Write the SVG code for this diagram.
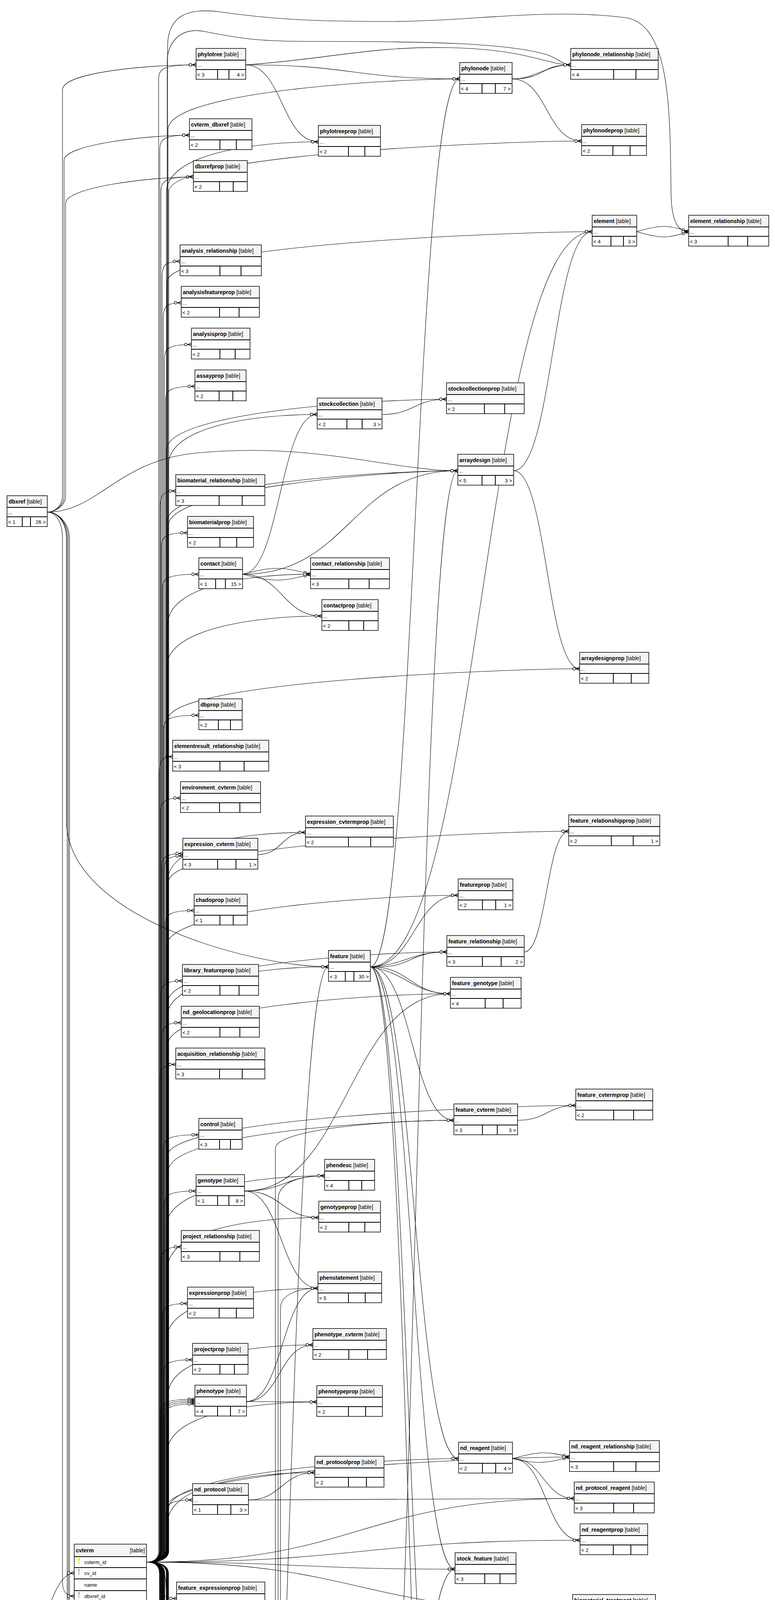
<svg xmlns="http://www.w3.org/2000/svg" width="1984" height="7963" viewBox="0 0 1984 7963">
<defs>
<marker id="m" viewBox="0 0 22 12" refX="22" refY="6" markerWidth="22" markerHeight="12" orient="auto" markerUnits="userSpaceOnUse"><path d="M12 6L22 1.5M12 6H22M12 6L22 10.5" fill="none" stroke="#000" stroke-width="1.2"/><circle cx="7.5" cy="6" r="3.3" fill="#fff" stroke="#000" stroke-width="1.2"/></marker>
</defs>
<style>
.c path{fill:none;stroke:#000;stroke-width:1.1;marker-end:url(#m)}
.b{fill:#fff;stroke:#000;stroke-width:1.5}
.h{fill:#f4f4f4}
.s{fill:none;stroke:#000;stroke-width:2}
.d{fill:none;stroke:#000;stroke-width:1}
text{font-family:"Liberation Sans",Arial,Helvetica,sans-serif;fill:#000}
.n{font-size:14px;font-weight:bold}
.n tspan{font-weight:normal}
.t{font-size:14px;text-anchor:end}
.r{font-size:13px}
.e{text-anchor:end}
.ky{fill:#e0e000}
.kg{fill:#aaa}
</style>
<rect width="1984" height="7963" fill="#fff"/>
<g id="connectors" class="c">
<path d="M629 166C903 166 903 202 1177 202"/>
<path d="M629 166C850 150 950 118 1150 122C1350 126 1400 166 1461 166"/>
<path d="M629 166C722 166 722 363 815 363"/>
<path d="M1311 202C1370 202 1400 166 1461 166"/>
<path d="M1311 202C1400 202 1380 166 1461 166"/>
<path d="M1311 202C1400 202 1400 361 1489 361"/>
<path d="M948 2475C1063 2475 1062 202 1177 202"/>
<path d="M121 1311C140 1311 160 1295 160 1270L160 230C160 185 380 166 502 166"/>
<path d="M121 1311C140 1311 164 1295 164 1270L164 410C164 370 380 346 485 346"/>
<path d="M121 1311C140 1311 168 1295 168 1270L168 520C168 480 380 453 495 453"/>
<path d="M121 1311C250 1311 300 1180 500 1160C800 1130 1000 1205 1172 1205"/>
<path d="M121 1311C150 1311 170 1340 170 1380L170 2100C170 2350 650 2475 841 2475"/>
<path d="M121 1311C150 1311 172 1340 172 1380L172 4900C172 5000 800 5064 1158 5064"/>
<path d="M121 1311C150 1311 175 1340 175 1380L175 4950C175 5030 600 5081 835 5081"/>
<path d="M121 1311C150 1311 178 1340 178 1380L178 5200C178 5300 600 5369 845 5369"/>
<path d="M121 1311C145 1311 160 1340 160 1380L160 4050C160 4075 170 4086 190 4086"/>
<path d="M108 7766C150 7766 230 7700 230 7500C230 6500 60 5500 60 4800C60 4300 120 4027 190 4027"/>
<path d="M108 7766L495 7766"/>
<path d="M108 7766C250 7766 330 7873 510 7873"/>
<path d="M1630 593C1690 575 1710 575 1763 593"/>
<path d="M1630 593C1690 611 1710 611 1763 593"/>
<path d="M1315 1205C1415 1205 1416 593 1516 593"/>
<path d="M948 2475C1232 2475 1232 593 1516 593"/>
<path d="M621 1470C700 1450 720 1450 795 1470"/>
<path d="M621 1470C700 1490 720 1490 795 1470"/>
<path d="M621 1470C722 1470 723 1577 824 1577"/>
<path d="M621 1470C716 1470 717 1061 812 1061"/>
<path d="M621 1470C896 1470 897 1205 1172 1205"/>
<path d="M978 1061C1060 1061 1061 1022 1143 1022"/>
<path d="M1315 1205C1400 1205 1400 1712 1484 1712"/>
<path d="M954 5081C1063 5081 1063 1205 1172 1205"/>
<path d="M954 5081C1066 5081 1067 4161 1179 4161"/>
<path d="M954 5081C1058 5081 1058 6710 1162 6710"/>
<path d="M660 2188C721 2188 721 2131 782 2131"/>
<path d="M948 2475C1060 2475 1061 2292 1173 2292"/>
<path d="M948 2475C1040 2470 1050 2437 1144 2437"/>
<path d="M948 2475C1060 2480 1040 2437 1144 2437"/>
<path d="M948 2475C1050 2475 1050 2544 1153 2544"/>
<path d="M948 2475C1040 2490 1060 2544 1153 2544"/>
<path d="M948 2475C1055 2475 1055 2868 1162 2868"/>
<path d="M948 2475C1061 2475 1061 3734 1174 3734"/>
<path d="M948 2475C1056 2475 1057 4017 1165 4017"/>
<path d="M948 2475C1048 2475 1048 4850 1148 4850"/>
<path d="M948 2475C1052 2475 1052 5642 1156 5642"/>
<path d="M1342 2437C1399 2437 1399 2128 1456 2128"/>
<path d="M1325 2868C1400 2868 1400 2830 1474 2830"/>
<path d="M628 5708C734 5708 735 2475 841 2475"/>
<path d="M628 5708C736 5708 737 5369 845 5369"/>
<path d="M628 5708C700 5708 715 5475 787 5475"/>
<path d="M628 5708C720 5700 700 5475 787 5475"/>
<path d="M628 5708C721 5708 722 5582 815 5582"/>
<path d="M628 5708C720 5708 719 5968 811 5968"/>
<path d="M628 5708C735 5708 736 6426 843 6426"/>
<path d="M628 5708C716 5708 717 6642 805 6642"/>
<path d="M626 3049C890 3049 890 2544 1153 2544"/>
<path d="M626 3049C728 3049 729 3010 831 3010"/>
<path d="M626 3049C721 3049 721 3117 816 3117"/>
<path d="M626 3049C720 3049 720 3298 814 3298"/>
<path d="M631 3588C716 3588 716 3443 801 3443"/>
<path d="M631 3588C721 3588 721 3589 811 3589"/>
<path d="M631 3588C722 3588 723 3298 814 3298"/>
<path d="M1312 3734C1380 3715 1400 3715 1458 3730"/>
<path d="M1312 3734C1380 3750 1400 3745 1458 3730"/>
<path d="M1312 3734C1391 3734 1391 3836 1470 3836"/>
<path d="M1312 3734C1398 3734 1398 3943 1485 3943"/>
<path d="M636 3840C721 3840 721 3770 806 3770"/>
<path d="M636 3840C1053 3840 1053 3836 1470 3836"/>
<path d="M1306 4161C1386 4161 1386 4124 1466 4124"/>
<path d="M647 4414C714 4414 714 4272 781 4272"/>
<path d="M647 4414C721 4414 722 4397 796 4397"/>
<path d="M647 4414C892 4414 892 4957 1137 4957"/>
<path d="M634 4808C721 4808 722 4789 809 4789"/>
<path d="M634 4808C892 4808 893 5170 1151 5170"/>
<path d="M1348 4957C1400 4957 1400 4826 1451 4826"/>
<path d="M960 5224C1054 5224 1054 4850 1148 4850"/>
<path d="M944 5369C1040 5360 1050 5391 1148 5391"/>
<path d="M944 5369C1050 5380 1040 5391 1148 5391"/>
<path d="M944 5369C1055 5369 1056 5498 1167 5498"/>
<path d="M944 5369C1061 5369 1061 5285 1178 5285"/>
<path d="M944 5369C1055 5369 1055 4017 1165 4017"/>
<path d="M944 5369C1048 5369 1047 5170 1151 5170"/>
<path d="M944 5369C1040 5369 1041 4957 1137 4957"/>
<path d="M1336 5391C1393 5391 1393 6622 1450 6622"/>
<path d="M1320 5498C1400 5498 1400 5533 1479 5533"/>
<path d="M979 5909C1041 5909 1041 5891 1103 5891"/>
<path d="M979 5909C1068 5909 1069 5064 1158 5064"/>
<path d="M979 5909C1067 5909 1068 5642 1156 5642"/>
<path d="M979 5909C1050 5909 1060 5749 1139 5749"/>
<path d="M979 5909C1065 5900 1050 5749 1139 5749"/>
<path d="M979 5909C1073 5909 1074 6090 1168 6090"/>
<path d="M979 5909C1063 5909 1064 6196 1148 6196"/>
<path d="M979 5909C1068 5909 1069 6303 1158 6303"/>
<path d="M979 5909C1067 5909 1068 6949 1156 6949"/>
<path d="M1383 5861C1428 5861 1429 6103 1474 6103"/>
<path d="M957 6174C1052 6174 1053 6196 1148 6196"/>
<path d="M946 6426C1060 6426 1060 6447 1174 6447"/>
<path d="M946 6426C1040 6426 1050 6554 1144 6554"/>
<path d="M946 6426C1050 6440 1040 6554 1144 6554"/>
<path d="M946 6426C1052 6426 1052 6303 1158 6303"/>
<path d="M946 6426C1054 6426 1055 6817 1163 6817"/>
<path d="M986 6642C1060 6642 1061 7105 1135 7105"/>
<path d="M1329 6949C1400 6949 1400 7213 1470 7213"/>
<path d="M607 6278C650 6278 705 6260 705 6200L705 2940C705 2890 1000 2868 1162 2868"/>
<path d="M607 6278C650 6278 712 6260 712 6200L712 3070C712 3030 760 3010 831 3010"/>
<path d="M607 6278C650 6278 718 6260 718 6200L718 3350C718 3315 760 3298 814 3298"/>
<path d="M607 6278C650 6278 724 6260 724 6200L724 5140C724 5100 770 5081 835 5081"/>
<path d="M607 6278C650 6278 730 6260 730 6200L730 5600C730 5530 1000 5498 1167 5498"/>
<path d="M607 6278C650 6278 735 6260 735 6200L735 5720C735 5670 1000 5642 1156 5642"/>
<path d="M607 6278C800 6278 900 6090 1168 6090"/>
<path d="M607 6278C850 6278 950 6196 1148 6196"/>
<path d="M607 6278C850 6278 950 6303 1158 6303"/>
<path d="M607 6278C750 6300 900 6380 1200 6375C1380 6370 1400 6132 1474 6132"/>
<path d="M607 6278C800 6278 1200 6622 1450 6622"/>
<path d="M607 6278C706 6278 706 6642 805 6642"/>
<path d="M607 6278C700 6278 712 6749 805 6749"/>
<path d="M607 6278C715 6290 700 6749 805 6749"/>
<path d="M607 6278C885 6278 885 6817 1163 6817"/>
<path d="M607 6278C681 6278 681 6855 755 6855"/>
<path d="M607 6278C880 6278 880 6949 1156 6949"/>
<path d="M607 6278C721 6278 721 6962 835 6962"/>
<path d="M375 3999Q406 3999 406 3970L406 206C406 178 412 166 502 166"/>
<path d="M375 3999Q409 3999 409 3970L409 386C409 358 415 346 485 346"/>
<path d="M375 3999Q412 3999 412 3970L412 493C412 465 418 453 495 453"/>
<path d="M375 3999Q415 3999 415 3970L415 709C415 681 421 669 461 669"/>
<path d="M375 3999Q418 3999 418 3970L418 815C418 787 424 775 464 775"/>
<path d="M375 3999Q421 3999 421 3970L421 922C421 894 427 882 490 882"/>
<path d="M375 3999Q424 3999 424 3970L424 1029C424 1001 430 989 499 989"/>
<path d="M375 3999Q410 3999 410 3970L410 1297C410 1269 416 1257 450 1257"/>
<path d="M375 3999Q413 3999 413 3970L413 1404C413 1376 419 1364 480 1364"/>
<path d="M375 3999Q416 3999 416 3970L416 1510C416 1482 422 1470 509 1470"/>
<path d="M375 3999Q419 3999 419 3970L419 1871C419 1843 425 1831 509 1831"/>
<path d="M375 3999Q408 3999 408 3970L408 1977C408 1949 414 1937 442 1937"/>
<path d="M375 3999Q411 3999 411 3970L411 2083C411 2055 417 2043 462 2043"/>
<path d="M375 3999Q414 3999 414 3970L414 2225C414 2197 420 2185 468 2185"/>
<path d="M375 3999Q420 3999 420 3970L420 2231C420 2203 426 2191 468 2191"/>
<path d="M375 3999Q423 3999 423 3970L423 2371C423 2343 429 2331 497 2331"/>
<path d="M375 3999Q412 3999 412 3970L412 2551C412 2523 418 2511 467 2511"/>
<path d="M375 3999Q415 3999 415 3970L415 2658C415 2630 421 2618 464 2618"/>
<path d="M375 3999Q409 3999 409 3970L409 2765C409 2737 415 2725 450 2725"/>
<path d="M375 3999Q418 3999 418 3970L418 2945C418 2917 424 2905 509 2905"/>
<path d="M375 3999Q421 3999 421 3970L421 3089C421 3061 427 3049 502 3049"/>
<path d="M375 3999Q413 3999 413 3970L413 3232C413 3204 419 3192 464 3192"/>
<path d="M375 3999Q416 3999 416 3970L416 3377C416 3349 422 3337 480 3337"/>
<path d="M375 3999Q419 3999 419 3970L419 3521C419 3493 425 3481 493 3481"/>
<path d="M375 3999Q410 3999 410 3970L410 3622C410 3594 416 3582 499 3582"/>
<path d="M375 3999Q414 3999 414 3970L414 3626C414 3598 420 3586 499 3586"/>
<path d="M375 3999Q418 3999 418 3970L418 3630C418 3602 424 3590 499 3590"/>
<path d="M375 3999Q422 3999 422 3970L422 3634C422 3606 428 3594 499 3594"/>
<path d="M375 3999Q425 3999 425 3970L425 3880C425 3852 431 3840 493 3840"/>
<path d="M375 3999Q430 3999 430 3970L430 332C430 232 1017 202 1177 202"/>
<path d="M375 3999Q428 3999 428 3970L428 160C428 110 460 70 520 80C600 95 640 106 800 106C1100 106 1300 110 1400 140C1430 150 1440 166 1461 166"/>
<path d="M375 3999Q426 3999 426 3970L426 493C426 393 655 363 815 363"/>
<path d="M375 3999Q432 3999 432 3970L432 491C432 391 1329 361 1489 361"/>
<path d="M375 3999Q427 3999 427 3970L427 723C427 623 1356 593 1516 593"/>
<path d="M375 3999Q429 3999 429 3970L429 120C429 40 480 20 560 30C700 50 800 55 1000 55C1200 55 1400 20 1600 45C1720 60 1715 300 1718 500C1720 575 1740 593 1763 593"/>
<path d="M375 3999Q431 3999 431 3970L431 1191C431 1091 652 1061 812 1061"/>
<path d="M375 3999Q426 3999 426 3970L426 1152C426 1052 983 1022 1143 1022"/>
<path d="M375 3999Q428 3999 428 3970L428 1335C428 1235 1012 1205 1172 1205"/>
<path d="M375 3999Q431 3999 431 3970L431 1345C431 1250 1000 1205 1172 1205"/>
<path d="M375 3999Q429 3999 429 3970L429 1600C429 1500 635 1470 795 1470"/>
<path d="M375 3999Q427 3999 427 3970L427 1707C427 1607 664 1577 824 1577"/>
<path d="M375 3999Q430 3999 430 3970L430 1842C430 1742 1324 1712 1484 1712"/>
<path d="M375 3999Q428 3999 428 3970L428 2261C428 2161 622 2131 782 2131"/>
<path d="M375 3999Q431 3999 431 3970L431 2258C431 2158 1296 2128 1456 2128"/>
<path d="M375 3999Q426 3999 426 3970L426 2422C426 2322 1013 2292 1173 2292"/>
<path d="M375 3999Q429 3999 429 3970L429 2567C429 2467 984 2437 1144 2437"/>
<path d="M375 3999Q427 3999 427 3970L427 2605C427 2505 681 2475 841 2475"/>
<path d="M375 3999Q430 3999 430 3970L430 2674C430 2574 993 2544 1153 2544"/>
<path d="M375 3999Q428 3999 428 3970L428 2960C428 2860 1314 2830 1474 2830"/>
<path d="M375 3999Q431 3999 431 3970L431 2998C431 2898 1002 2868 1162 2868"/>
<path d="M375 3999Q426 3999 426 3970L426 3140C426 3040 671 3010 831 3010"/>
<path d="M375 3999Q429 3999 429 3970L429 3247C429 3147 656 3117 816 3117"/>
<path d="M375 3999Q427 3999 427 3970L427 3428C427 3328 654 3298 814 3298"/>
<path d="M375 3999Q430 3999 430 3970L430 3573C430 3473 641 3443 801 3443"/>
<path d="M375 3999Q428 3999 428 3970L428 3719C428 3619 651 3589 811 3589"/>
<path d="M375 3999Q431 3999 431 3970L431 3864C431 3764 1014 3734 1174 3734"/>
<path d="M375 3999Q426 3999 426 3970L426 3860C426 3760 1298 3730 1458 3730"/>
<path d="M375 3999Q429 3999 429 3970L429 3900C429 3800 646 3770 806 3770"/>
<path d="M375 3999C922 3999 923 3836 1470 3836"/>
<path d="M375 3999C930 3999 930 3943 1485 3943"/>
<path d="M375 3999C770 3999 770 4017 1165 4017"/>
<path d="M375 3999C920 3999 920 4124 1466 4124"/>
<path d="M375 3999Q425 3999 425 4060C425 4140 500 4165 700 4165C900 4165 1050 4161 1179 4161"/>
<path d="M375 3999Q410 3999 410 4028L410 4052C410 4080 416 4092 452 4092"/>
<path d="M375 3999Q413 3999 413 4028L413 4267C413 4295 419 4307 440 4307"/>
<path d="M375 3999Q416 3999 416 4028L416 4374C416 4402 422 4414 482 4414"/>
<path d="M375 3999Q409 3999 409 4028L409 4476C409 4504 415 4516 464 4516"/>
<path d="M375 3999Q412 3999 412 4028L412 4481C412 4509 418 4521 464 4521"/>
<path d="M375 3999Q415 3999 415 4028L415 4486C415 4514 421 4526 464 4526"/>
<path d="M375 3999Q418 3999 418 4028L418 4588C418 4616 424 4628 469 4628"/>
<path d="M375 3999Q421 3999 421 4028L421 4768C421 4796 427 4808 495 4808"/>
<path d="M375 3999Q414 3999 414 4028L414 4909C414 4937 420 4949 493 4949"/>
<path d="M375 3999Q420 3999 420 4028L420 4915C420 4943 426 4955 493 4955"/>
<path d="M375 3999Q411 3999 411 4028L411 5055C411 5083 417 5095 476 5095"/>
<path d="M375 3999Q417 3999 417 4028L417 5200C417 5228 423 5240 472 5240"/>
<path d="M375 3999Q413 3999 413 4028L413 5340C413 5368 419 5380 478 5380"/>
<path d="M375 3999Q419 3999 419 4028L419 5346C419 5374 425 5386 478 5386"/>
<path d="M375 3999Q422 3999 422 4028L422 5668C422 5696 428 5708 502 5708"/>
<path d="M375 3999Q410 3999 410 4028L410 5774C410 5802 416 5814 481 5814"/>
<path d="M375 3999Q416 3999 416 4028L416 6238C416 6266 422 6278 520 6278"/>
<path d="M375 3999Q419 3999 419 4028L419 6385C419 6413 425 6425 476 6425"/>
<path d="M375 3999Q412 3999 412 4028L412 7226C412 7254 418 7266 493 7266"/>
<path d="M375 3999Q408 3999 408 4028L408 7333C408 7361 414 7373 452 7373"/>
<path d="M375 3999Q415 3999 415 4028L415 7513C415 7541 421 7553 480 7553"/>
<path d="M375 3999Q418 3999 418 4028L418 7619C418 7647 424 7659 478 7659"/>
<path d="M375 3999Q410 3999 410 4028L410 7720C410 7748 416 7760 495 7760"/>
<path d="M375 3999Q414 3999 414 4028L414 7726C414 7754 420 7766 495 7766"/>
<path d="M375 3999Q421 3999 421 4028L421 7732C421 7760 427 7772 495 7772"/>
<path d="M375 3999Q417 3999 417 4028L417 7833C417 7861 423 7873 510 7873"/>
<path d="M375 3999Q428 3999 428 4028L428 4142C428 4242 621 4272 781 4272"/>
<path d="M375 3999Q431 3999 431 4028L431 4267C431 4367 636 4397 796 4397"/>
<path d="M375 3999Q426 3999 426 4028L426 4659C426 4759 649 4789 809 4789"/>
<path d="M375 3999Q429 3999 429 4028L429 4696C429 4796 1291 4826 1451 4826"/>
<path d="M375 3999Q427 3999 427 4028L427 4720C427 4820 988 4850 1148 4850"/>
<path d="M375 3999Q430 3999 430 4028L430 4827C430 4927 977 4957 1137 4957"/>
<path d="M375 3999Q428 3999 428 4028L428 4951C428 5051 675 5081 835 5081"/>
<path d="M375 3999Q431 3999 431 4028L431 5040C431 5140 991 5170 1151 5170"/>
<path d="M375 3999Q426 3999 426 4028L426 5094C426 5194 669 5224 829 5224"/>
<path d="M375 3999Q429 3999 429 4028L429 5155C429 5255 1018 5285 1178 5285"/>
<path d="M375 3999Q427 3999 427 4028L427 5239C427 5339 685 5369 845 5369"/>
<path d="M375 3999Q430 3999 430 4028L430 5261C430 5361 988 5391 1148 5391"/>
<path d="M375 3999Q428 3999 428 4028L428 5345C428 5445 627 5475 787 5475"/>
<path d="M375 3999Q431 3999 431 4028L431 5368C431 5468 1007 5498 1167 5498"/>
<path d="M375 3999Q426 3999 426 4028L426 5403C426 5503 1319 5533 1479 5533"/>
<path d="M375 3999Q429 3999 429 4028L429 5452C429 5552 655 5582 815 5582"/>
<path d="M375 3999Q427 3999 427 4028L427 5619C427 5719 979 5749 1139 5749"/>
<path d="M375 3999Q430 3999 430 4028L430 5791C430 5891 943 5921 1103 5921"/>
<path d="M375 3999Q428 3999 428 4028L428 6044C428 6144 673 6174 833 6174"/>
<path d="M375 3999Q431 3999 431 4028L431 6296C431 6396 683 6426 843 6426"/>
<path d="M375 3999Q426 3999 426 4028L426 6317C426 6417 1014 6447 1174 6447"/>
<path d="M375 3999Q429 3999 429 4028L429 6424C429 6524 984 6554 1144 6554"/>
<path d="M375 3999Q427 3999 427 4028L427 6492C427 6592 1290 6622 1450 6622"/>
<path d="M375 3999Q430 3999 430 4028L430 6512C430 6612 645 6642 805 6642"/>
<path d="M375 3999Q428 3999 428 4028L428 6580C428 6680 1002 6710 1162 6710"/>
<path d="M375 3999Q431 3999 431 4028L431 6570C431 6690 990 6710 1162 6710"/>
<path d="M375 3999Q426 3999 426 4028L426 6619C426 6719 645 6749 805 6749"/>
<path d="M375 3999Q429 3999 429 4028L429 6687C429 6787 1003 6817 1163 6817"/>
<path d="M375 3999Q427 3999 427 4028L427 6725C427 6825 595 6855 755 6855"/>
<path d="M375 3999Q430 3999 430 4028L430 6819C430 6919 996 6949 1156 6949"/>
<path d="M375 3999Q428 3999 428 4028L428 6832C428 6932 675 6962 835 6962"/>
<path d="M375 3999Q431 3999 431 4028L431 6975C431 7075 975 7105 1135 7105"/>
<path d="M375 3999Q426 3999 426 4028L426 7083C426 7183 1310 7213 1470 7213"/>
</g>
<g id="phylotree" transform="translate(502 124)"><rect class="b" width="127" height="79"/><rect class="h" x="1" y="1" width="125" height="29"/><path class="s" d="M0 30H127M0 54H127M55 54V79M84 54V79"/><text class="n" x="4" y="20">phylotree <tspan>[table]</tspan></text><text class="r" x="3" y="47">...</text><text class="r" x="3" y="72">&lt; 3</text><text class="r e" x="123" y="72">4 &gt;</text></g>
<g id="phylonode" transform="translate(1177 160)"><rect class="b" width="134" height="79"/><rect class="h" x="1" y="1" width="132" height="29"/><path class="s" d="M0 30H134M0 54H134M57 54V79M91 54V79"/><text class="n" x="4" y="20">phylonode <tspan>[table]</tspan></text><text class="r" x="3" y="47">...</text><text class="r" x="3" y="72">&lt; 4</text><text class="r e" x="130" y="72">7 &gt;</text></g>
<g id="phylonode_relationship" transform="translate(1461 124)"><rect class="b" width="224" height="79"/><rect class="h" x="1" y="1" width="222" height="29"/><path class="s" d="M0 30H224M0 54H224M110 54V79M167 54V79"/><text class="n" x="4" y="20">phylonode_relationship <tspan>[table]</tspan></text><text class="r" x="3" y="47">...</text><text class="r" x="3" y="72">&lt; 4</text></g>
<g id="cvterm_dbxref" transform="translate(485 304)"><rect class="b" width="160" height="79"/><rect class="h" x="1" y="1" width="158" height="29"/><path class="s" d="M0 30H160M0 54H160M78 54V79M120 54V79"/><text class="n" x="4" y="20">cvterm_dbxref <tspan>[table]</tspan></text><text class="r" x="3" y="47">...</text><text class="r" x="3" y="72">&lt; 2</text></g>
<g id="phylotreeprop" transform="translate(815 321)"><rect class="b" width="159" height="79"/><rect class="h" x="1" y="1" width="157" height="29"/><path class="s" d="M0 30H159M0 54H159M77 54V79M119 54V79"/><text class="n" x="4" y="20">phylotreeprop <tspan>[table]</tspan></text><text class="r" x="3" y="47">...</text><text class="r" x="3" y="72">&lt; 2</text></g>
<g id="phylonodeprop" transform="translate(1489 319)"><rect class="b" width="166" height="79"/><rect class="h" x="1" y="1" width="164" height="29"/><path class="s" d="M0 30H166M0 54H166M80 54V79M124 54V79"/><text class="n" x="4" y="20">phylonodeprop <tspan>[table]</tspan></text><text class="r" x="3" y="47">...</text><text class="r" x="3" y="72">&lt; 2</text></g>
<g id="dbxrefprop" transform="translate(495 411)"><rect class="b" width="138" height="79"/><rect class="h" x="1" y="1" width="136" height="29"/><path class="s" d="M0 30H138M0 54H138M67 54V79M102 54V79"/><text class="n" x="4" y="20">dbxrefprop <tspan>[table]</tspan></text><text class="r" x="3" y="47">...</text><text class="r" x="3" y="72">&lt; 2</text></g>
<g id="element" transform="translate(1516 551)"><rect class="b" width="114" height="79"/><rect class="h" x="1" y="1" width="112" height="29"/><path class="s" d="M0 30H114M0 54H114M48 54V79M80 54V79"/><text class="n" x="4" y="20">element <tspan>[table]</tspan></text><text class="r" x="3" y="47">...</text><text class="r" x="3" y="72">&lt; 4</text><text class="r e" x="110" y="72">3 &gt;</text></g>
<g id="element_relationship" transform="translate(1763 551)"><rect class="b" width="205" height="79"/><rect class="h" x="1" y="1" width="203" height="29"/><path class="s" d="M0 30H205M0 54H205M101 54V79M151 54V79"/><text class="n" x="4" y="20">element_relationship <tspan>[table]</tspan></text><text class="r" x="3" y="47">...</text><text class="r" x="3" y="72">&lt; 3</text></g>
<g id="analysis_relationship" transform="translate(461 627)"><rect class="b" width="208" height="79"/><rect class="h" x="1" y="1" width="206" height="29"/><path class="s" d="M0 30H208M0 54H208M102 54V79M156 54V79"/><text class="n" x="4" y="20">analysis_relationship <tspan>[table]</tspan></text><text class="r" x="3" y="47">...</text><text class="r" x="3" y="72">&lt; 3</text></g>
<g id="analysisfeatureprop" transform="translate(464 733)"><rect class="b" width="200" height="79"/><rect class="h" x="1" y="1" width="198" height="29"/><path class="s" d="M0 30H200M0 54H200M98 54V79M148 54V79"/><text class="n" x="4" y="20">analysisfeatureprop <tspan>[table]</tspan></text><text class="r" x="3" y="47">...</text><text class="r" x="3" y="72">&lt; 2</text></g>
<g id="analysisprop" transform="translate(490 840)"><rect class="b" width="150" height="79"/><rect class="h" x="1" y="1" width="148" height="29"/><path class="s" d="M0 30H150M0 54H150M73 54V79M112 54V79"/><text class="n" x="4" y="20">analysisprop <tspan>[table]</tspan></text><text class="r" x="3" y="47">...</text><text class="r" x="3" y="72">&lt; 2</text></g>
<g id="assayprop" transform="translate(499 947)"><rect class="b" width="131" height="79"/><rect class="h" x="1" y="1" width="129" height="29"/><path class="s" d="M0 30H131M0 54H131M62 54V79M97 54V79"/><text class="n" x="4" y="20">assayprop <tspan>[table]</tspan></text><text class="r" x="3" y="47">...</text><text class="r" x="3" y="72">&lt; 2</text></g>
<g id="stockcollection" transform="translate(812 1019)"><rect class="b" width="166" height="79"/><rect class="h" x="1" y="1" width="164" height="29"/><path class="s" d="M0 30H166M0 54H166M76 54V79M115 54V79"/><text class="n" x="4" y="20">stockcollection <tspan>[table]</tspan></text><text class="r" x="3" y="47">...</text><text class="r" x="3" y="72">&lt; 2</text><text class="r e" x="162" y="72">3 &gt;</text></g>
<g id="stockcollectionprop" transform="translate(1143 980)"><rect class="b" width="199" height="79"/><rect class="h" x="1" y="1" width="197" height="29"/><path class="s" d="M0 30H199M0 54H199M97 54V79M149 54V79"/><text class="n" x="4" y="20">stockcollectionprop <tspan>[table]</tspan></text><text class="r" x="3" y="47">...</text><text class="r" x="3" y="72">&lt; 2</text></g>
<g id="arraydesign" transform="translate(1172 1163)"><rect class="b" width="143" height="79"/><rect class="h" x="1" y="1" width="141" height="29"/><path class="s" d="M0 30H143M0 54H143M62 54V79M96 54V79"/><text class="n" x="4" y="20">arraydesign <tspan>[table]</tspan></text><text class="r" x="3" y="47">...</text><text class="r" x="3" y="72">&lt; 5</text><text class="r e" x="139" y="72">3 &gt;</text></g>
<g id="biomaterial_relationship" transform="translate(450 1215)"><rect class="b" width="228" height="79"/><rect class="h" x="1" y="1" width="226" height="29"/><path class="s" d="M0 30H228M0 54H228M111 54V79M170 54V79"/><text class="n" x="4" y="20">biomaterial_relationship <tspan>[table]</tspan></text><text class="r" x="3" y="47">...</text><text class="r" x="3" y="72">&lt; 3</text></g>
<g id="dbxref" transform="translate(18 1269)"><rect class="b" width="103" height="79"/><rect class="h" x="1" y="1" width="101" height="29"/><path class="s" d="M0 30H103M0 54H103M39 54V79M60 54V79"/><text class="n" x="4" y="20">dbxref <tspan>[table]</tspan></text><text class="r" x="3" y="47">...</text><text class="r" x="3" y="72">&lt; 1</text><text class="r e" x="99" y="72">26 &gt;</text></g>
<g id="biomaterialprop" transform="translate(480 1322)"><rect class="b" width="169" height="79"/><rect class="h" x="1" y="1" width="167" height="29"/><path class="s" d="M0 30H169M0 54H169M83 54V79M126 54V79"/><text class="n" x="4" y="20">biomaterialprop <tspan>[table]</tspan></text><text class="r" x="3" y="47">...</text><text class="r" x="3" y="72">&lt; 2</text></g>
<g id="contact" transform="translate(509 1428)"><rect class="b" width="112" height="79"/><rect class="h" x="1" y="1" width="110" height="29"/><path class="s" d="M0 30H112M0 54H112M43 54V79M68 54V79"/><text class="n" x="4" y="20">contact <tspan>[table]</tspan></text><text class="r" x="3" y="47">...</text><text class="r" x="3" y="72">&lt; 1</text><text class="r e" x="108" y="72">15 &gt;</text></g>
<g id="contact_relationship" transform="translate(795 1428)"><rect class="b" width="202" height="79"/><rect class="h" x="1" y="1" width="200" height="29"/><path class="s" d="M0 30H202M0 54H202M98 54V79M150 54V79"/><text class="n" x="4" y="20">contact_relationship <tspan>[table]</tspan></text><text class="r" x="3" y="47">...</text><text class="r" x="3" y="72">&lt; 3</text></g>
<g id="contactprop" transform="translate(824 1535)"><rect class="b" width="144" height="79"/><rect class="h" x="1" y="1" width="142" height="29"/><path class="s" d="M0 30H144M0 54H144M69 54V79M107 54V79"/><text class="n" x="4" y="20">contactprop <tspan>[table]</tspan></text><text class="r" x="3" y="47">...</text><text class="r" x="3" y="72">&lt; 2</text></g>
<g id="arraydesignprop" transform="translate(1484 1670)"><rect class="b" width="177" height="79"/><rect class="h" x="1" y="1" width="175" height="29"/><path class="s" d="M0 30H177M0 54H177M86 54V79M132 54V79"/><text class="n" x="4" y="20">arraydesignprop <tspan>[table]</tspan></text><text class="r" x="3" y="47">...</text><text class="r" x="3" y="72">&lt; 2</text></g>
<g id="dbprop" transform="translate(509 1789)"><rect class="b" width="111" height="79"/><rect class="h" x="1" y="1" width="109" height="29"/><path class="s" d="M0 30H111M0 54H111M50 54V79M81 54V79"/><text class="n" x="4" y="20">dbprop <tspan>[table]</tspan></text><text class="r" x="3" y="47">...</text><text class="r" x="3" y="72">&lt; 2</text></g>
<g id="elementresult_relationship" transform="translate(442 1895)"><rect class="b" width="246" height="79"/><rect class="h" x="1" y="1" width="244" height="29"/><path class="s" d="M0 30H246M0 54H246M121 54V79M183 54V79"/><text class="n" x="4" y="20">elementresult_relationship <tspan>[table]</tspan></text><text class="r" x="3" y="47">...</text><text class="r" x="3" y="72">&lt; 3</text></g>
<g id="environment_cvterm" transform="translate(462 2001)"><rect class="b" width="205" height="79"/><rect class="h" x="1" y="1" width="203" height="29"/><path class="s" d="M0 30H205M0 54H205M100 54V79M152 54V79"/><text class="n" x="4" y="20">environment_cvterm <tspan>[table]</tspan></text><text class="r" x="3" y="47">...</text><text class="r" x="3" y="72">&lt; 2</text></g>
<g id="expression_cvtermprop" transform="translate(782 2089)"><rect class="b" width="225" height="79"/><rect class="h" x="1" y="1" width="223" height="29"/><path class="s" d="M0 30H225M0 54H225M110 54V79M167 54V79"/><text class="n" x="4" y="20">expression_cvtermprop <tspan>[table]</tspan></text><text class="r" x="3" y="47">...</text><text class="r" x="3" y="72">&lt; 2</text></g>
<g id="expression_cvterm" transform="translate(468 2146)"><rect class="b" width="192" height="79"/><rect class="h" x="1" y="1" width="190" height="29"/><path class="s" d="M0 30H192M0 54H192M89 54V79M136 54V79"/><text class="n" x="4" y="20">expression_cvterm <tspan>[table]</tspan></text><text class="r" x="3" y="47">...</text><text class="r" x="3" y="72">&lt; 3</text><text class="r e" x="188" y="72">1 &gt;</text></g>
<g id="feature_relationshipprop" transform="translate(1456 2086)"><rect class="b" width="233" height="79"/><rect class="h" x="1" y="1" width="231" height="29"/><path class="s" d="M0 30H233M0 54H233M109 54V79M165 54V79"/><text class="n" x="4" y="20">feature_relationshipprop <tspan>[table]</tspan></text><text class="r" x="3" y="47">...</text><text class="r" x="3" y="72">&lt; 2</text><text class="r e" x="229" y="72">1 &gt;</text></g>
<g id="featureprop" transform="translate(1173 2250)"><rect class="b" width="140" height="79"/><rect class="h" x="1" y="1" width="138" height="29"/><path class="s" d="M0 30H140M0 54H140M62 54V79M96 54V79"/><text class="n" x="4" y="20">featureprop <tspan>[table]</tspan></text><text class="r" x="3" y="47">...</text><text class="r" x="3" y="72">&lt; 2</text><text class="r e" x="136" y="72">1 &gt;</text></g>
<g id="chadoprop" transform="translate(497 2289)"><rect class="b" width="136" height="79"/><rect class="h" x="1" y="1" width="134" height="29"/><path class="s" d="M0 30H136M0 54H136M66 54V79M100 54V79"/><text class="n" x="4" y="20">chadoprop <tspan>[table]</tspan></text><text class="r" x="3" y="47">...</text><text class="r" x="3" y="72">&lt; 1</text></g>
<g id="feature_relationship" transform="translate(1144 2395)"><rect class="b" width="198" height="79"/><rect class="h" x="1" y="1" width="196" height="29"/><path class="s" d="M0 30H198M0 54H198M91 54V79M139 54V79"/><text class="n" x="4" y="20">feature_relationship <tspan>[table]</tspan></text><text class="r" x="3" y="47">...</text><text class="r" x="3" y="72">&lt; 3</text><text class="r e" x="194" y="72">2 &gt;</text></g>
<g id="feature" transform="translate(841 2433)"><rect class="b" width="107" height="79"/><rect class="h" x="1" y="1" width="105" height="29"/><path class="s" d="M0 30H107M0 54H107M43 54V79M65 54V79"/><text class="n" x="4" y="20">feature <tspan>[table]</tspan></text><text class="r" x="3" y="47">...</text><text class="r" x="3" y="72">&lt; 3</text><text class="r e" x="103" y="72">30 &gt;</text></g>
<g id="feature_genotype" transform="translate(1153 2502)"><rect class="b" width="181" height="79"/><rect class="h" x="1" y="1" width="179" height="29"/><path class="s" d="M0 30H181M0 54H181M89 54V79M135 54V79"/><text class="n" x="4" y="20">feature_genotype <tspan>[table]</tspan></text><text class="r" x="3" y="47">...</text><text class="r" x="3" y="72">&lt; 4</text></g>
<g id="library_featureprop" transform="translate(467 2469)"><rect class="b" width="195" height="79"/><rect class="h" x="1" y="1" width="193" height="29"/><path class="s" d="M0 30H195M0 54H195M96 54V79M145 54V79"/><text class="n" x="4" y="20">library_featureprop <tspan>[table]</tspan></text><text class="r" x="3" y="47">...</text><text class="r" x="3" y="72">&lt; 2</text></g>
<g id="nd_geolocationprop" transform="translate(464 2576)"><rect class="b" width="200" height="79"/><rect class="h" x="1" y="1" width="198" height="29"/><path class="s" d="M0 30H200M0 54H200M99 54V79M150 54V79"/><text class="n" x="4" y="20">nd_geolocationprop <tspan>[table]</tspan></text><text class="r" x="3" y="47">...</text><text class="r" x="3" y="72">&lt; 2</text></g>
<g id="acquisition_relationship" transform="translate(450 2683)"><rect class="b" width="228" height="79"/><rect class="h" x="1" y="1" width="226" height="29"/><path class="s" d="M0 30H228M0 54H228M112 54V79M170 54V79"/><text class="n" x="4" y="20">acquisition_relationship <tspan>[table]</tspan></text><text class="r" x="3" y="47">...</text><text class="r" x="3" y="72">&lt; 3</text></g>
<g id="feature_cvtermprop" transform="translate(1474 2788)"><rect class="b" width="197" height="79"/><rect class="h" x="1" y="1" width="195" height="29"/><path class="s" d="M0 30H197M0 54H197M97 54V79M148 54V79"/><text class="n" x="4" y="20">feature_cvtermprop <tspan>[table]</tspan></text><text class="r" x="3" y="47">...</text><text class="r" x="3" y="72">&lt; 2</text></g>
<g id="feature_cvterm" transform="translate(1162 2826)"><rect class="b" width="163" height="79"/><rect class="h" x="1" y="1" width="161" height="29"/><path class="s" d="M0 30H163M0 54H163M73 54V79M111 54V79"/><text class="n" x="4" y="20">feature_cvterm <tspan>[table]</tspan></text><text class="r" x="3" y="47">...</text><text class="r" x="3" y="72">&lt; 3</text><text class="r e" x="159" y="72">3 &gt;</text></g>
<g id="control" transform="translate(509 2863)"><rect class="b" width="111" height="79"/><rect class="h" x="1" y="1" width="109" height="29"/><path class="s" d="M0 30H111M0 54H111M53 54V79M81 54V79"/><text class="n" x="4" y="20">control <tspan>[table]</tspan></text><text class="r" x="3" y="47">...</text><text class="r" x="3" y="72">&lt; 3</text></g>
<g id="phendesc" transform="translate(831 2968)"><rect class="b" width="128" height="79"/><rect class="h" x="1" y="1" width="126" height="29"/><path class="s" d="M0 30H128M0 54H128M62 54V79M95 54V79"/><text class="n" x="4" y="20">phendesc <tspan>[table]</tspan></text><text class="r" x="3" y="47">...</text><text class="r" x="3" y="72">&lt; 4</text></g>
<g id="genotype" transform="translate(502 3007)"><rect class="b" width="124" height="79"/><rect class="h" x="1" y="1" width="122" height="29"/><path class="s" d="M0 30H124M0 54H124M55 54V79M84 54V79"/><text class="n" x="4" y="20">genotype <tspan>[table]</tspan></text><text class="r" x="3" y="47">...</text><text class="r" x="3" y="72">&lt; 1</text><text class="r e" x="120" y="72">8 &gt;</text></g>
<g id="genotypeprop" transform="translate(816 3075)"><rect class="b" width="158" height="79"/><rect class="h" x="1" y="1" width="156" height="29"/><path class="s" d="M0 30H158M0 54H158M77 54V79M118 54V79"/><text class="n" x="4" y="20">genotypeprop <tspan>[table]</tspan></text><text class="r" x="3" y="47">...</text><text class="r" x="3" y="72">&lt; 2</text></g>
<g id="project_relationship" transform="translate(464 3150)"><rect class="b" width="200" height="79"/><rect class="h" x="1" y="1" width="198" height="29"/><path class="s" d="M0 30H200M0 54H200M99 54V79M150 54V79"/><text class="n" x="4" y="20">project_relationship <tspan>[table]</tspan></text><text class="r" x="3" y="47">...</text><text class="r" x="3" y="72">&lt; 3</text></g>
<g id="phenstatement" transform="translate(814 3256)"><rect class="b" width="163" height="79"/><rect class="h" x="1" y="1" width="161" height="29"/><path class="s" d="M0 30H163M0 54H163M78 54V79M121 54V79"/><text class="n" x="4" y="20">phenstatement <tspan>[table]</tspan></text><text class="r" x="3" y="47">...</text><text class="r" x="3" y="72">&lt; 5</text></g>
<g id="expressionprop" transform="translate(480 3295)"><rect class="b" width="169" height="79"/><rect class="h" x="1" y="1" width="167" height="29"/><path class="s" d="M0 30H169M0 54H169M81 54V79M125 54V79"/><text class="n" x="4" y="20">expressionprop <tspan>[table]</tspan></text><text class="r" x="3" y="47">...</text><text class="r" x="3" y="72">&lt; 2</text></g>
<g id="phenotype_cvterm" transform="translate(801 3401)"><rect class="b" width="188" height="79"/><rect class="h" x="1" y="1" width="186" height="29"/><path class="s" d="M0 30H188M0 54H188M92 54V79M140 54V79"/><text class="n" x="4" y="20">phenotype_cvterm <tspan>[table]</tspan></text><text class="r" x="3" y="47">...</text><text class="r" x="3" y="72">&lt; 2</text></g>
<g id="projectprop" transform="translate(493 3439)"><rect class="b" width="142" height="79"/><rect class="h" x="1" y="1" width="140" height="29"/><path class="s" d="M0 30H142M0 54H142M70 54V79M107 54V79"/><text class="n" x="4" y="20">projectprop <tspan>[table]</tspan></text><text class="r" x="3" y="47">...</text><text class="r" x="3" y="72">&lt; 2</text></g>
<g id="phenotype" transform="translate(499 3546)"><rect class="b" width="132" height="79"/><rect class="h" x="1" y="1" width="130" height="29"/><path class="s" d="M0 30H132M0 54H132M58 54V79M91 54V79"/><text class="n" x="4" y="20">phenotype <tspan>[table]</tspan></text><text class="r" x="3" y="47">...</text><text class="r" x="3" y="72">&lt; 4</text><text class="r e" x="128" y="72">7 &gt;</text></g>
<g id="phenotypeprop" transform="translate(811 3547)"><rect class="b" width="168" height="79"/><rect class="h" x="1" y="1" width="166" height="29"/><path class="s" d="M0 30H168M0 54H168M81 54V79M125 54V79"/><text class="n" x="4" y="20">phenotypeprop <tspan>[table]</tspan></text><text class="r" x="3" y="47">...</text><text class="r" x="3" y="72">&lt; 2</text></g>
<g id="nd_reagent" transform="translate(1174 3692)"><rect class="b" width="138" height="79"/><rect class="h" x="1" y="1" width="136" height="29"/><path class="s" d="M0 30H138M0 54H138M61 54V79M95 54V79"/><text class="n" x="4" y="20">nd_reagent <tspan>[table]</tspan></text><text class="r" x="3" y="47">...</text><text class="r" x="3" y="72">&lt; 2</text><text class="r e" x="134" y="72">4 &gt;</text></g>
<g id="nd_reagent_relationship" transform="translate(1458 3688)"><rect class="b" width="230" height="79"/><rect class="h" x="1" y="1" width="228" height="29"/><path class="s" d="M0 30H230M0 54H230M113 54V79M170 54V79"/><text class="n" x="4" y="20">nd_reagent_relationship <tspan>[table]</tspan></text><text class="r" x="3" y="47">...</text><text class="r" x="3" y="72">&lt; 3</text></g>
<g id="nd_protocolprop" transform="translate(806 3728)"><rect class="b" width="177" height="79"/><rect class="h" x="1" y="1" width="175" height="29"/><path class="s" d="M0 30H177M0 54H177M86 54V79M132 54V79"/><text class="n" x="4" y="20">nd_protocolprop <tspan>[table]</tspan></text><text class="r" x="3" y="47">...</text><text class="r" x="3" y="72">&lt; 2</text></g>
<g id="nd_protocol" transform="translate(493 3798)"><rect class="b" width="143" height="79"/><rect class="h" x="1" y="1" width="141" height="29"/><path class="s" d="M0 30H143M0 54H143M64 54V79M98 54V79"/><text class="n" x="4" y="20">nd_protocol <tspan>[table]</tspan></text><text class="r" x="3" y="47">...</text><text class="r" x="3" y="72">&lt; 1</text><text class="r e" x="139" y="72">3 &gt;</text></g>
<g id="nd_protocol_reagent" transform="translate(1470 3794)"><rect class="b" width="205" height="79"/><rect class="h" x="1" y="1" width="203" height="29"/><path class="s" d="M0 30H205M0 54H205M101 54V79M152 54V79"/><text class="n" x="4" y="20">nd_protocol_reagent <tspan>[table]</tspan></text><text class="r" x="3" y="47">...</text><text class="r" x="3" y="72">&lt; 3</text></g>
<g id="nd_reagentprop" transform="translate(1485 3901)"><rect class="b" width="173" height="79"/><rect class="h" x="1" y="1" width="171" height="29"/><path class="s" d="M0 30H173M0 54H173M85 54V79M130 54V79"/><text class="n" x="4" y="20">nd_reagentprop <tspan>[table]</tspan></text><text class="r" x="3" y="47">...</text><text class="r" x="3" y="72">&lt; 2</text></g>
<g id="stock_feature" transform="translate(1165 3975)"><rect class="b" width="156" height="79"/><rect class="h" x="1" y="1" width="154" height="29"/><path class="s" d="M0 30H156M0 54H156M76 54V79M115 54V79"/><text class="n" x="4" y="20">stock_feature <tspan>[table]</tspan></text><text class="r" x="3" y="47">...</text><text class="r" x="3" y="72">&lt; 3</text></g>
<g id="feature_expressionprop" transform="translate(452 4050)"><rect class="b" width="226" height="79"/><rect class="h" x="1" y="1" width="224" height="29"/><path class="s" d="M0 30H226M0 54H226M111 54V79M168 54V79"/><text class="n" x="4" y="20">feature_expressionprop <tspan>[table]</tspan></text><text class="r" x="3" y="47">...</text><text class="r" x="3" y="72">&lt; 2</text></g>
<g id="biomaterial_treatment" transform="translate(1466 4082)"><rect class="b" width="212" height="79"/><rect class="h" x="1" y="1" width="210" height="29"/><path class="s" d="M0 30H212M0 54H212M103 54V79M159 54V79"/><text class="n" x="4" y="20">biomaterial_treatment <tspan>[table]</tspan></text><text class="r" x="3" y="47">...</text><text class="r" x="3" y="72">&lt; 3</text></g>
<g id="treatment" transform="translate(1179 4119)"><rect class="b" width="127" height="79"/><rect class="h" x="1" y="1" width="125" height="29"/><path class="s" d="M0 30H127M0 54H127M56 54V79M84 54V79"/><text class="n" x="4" y="20">treatment <tspan>[table]</tspan></text><text class="r" x="3" y="47">...</text><text class="r" x="3" y="72">&lt; 3</text><text class="r e" x="123" y="72">1 &gt;</text></g>
<g id="nd_experiment_analysis" transform="translate(781 4230)"><rect class="b" width="227" height="79"/><rect class="h" x="1" y="1" width="225" height="29"/><path class="s" d="M0 30H227M0 54H227M111 54V79M169 54V79"/><text class="n" x="4" y="20">nd_experiment_analysis <tspan>[table]</tspan></text><text class="r" x="3" y="47">...</text><text class="r" x="3" y="72">&lt; 3</text></g>
<g id="quantification_relationship" transform="translate(440 4265)"><rect class="b" width="248" height="79"/><rect class="h" x="1" y="1" width="246" height="29"/><path class="s" d="M0 30H248M0 54H248M121 54V79M184 54V79"/><text class="n" x="4" y="20">quantification_relationship <tspan>[table]</tspan></text><text class="r" x="3" y="47">...</text><text class="r" x="3" y="72">&lt; 3</text></g>
<g id="nd_experimentprop" transform="translate(796 4355)"><rect class="b" width="197" height="79"/><rect class="h" x="1" y="1" width="195" height="29"/><path class="s" d="M0 30H197M0 54H197M96 54V79M147 54V79"/><text class="n" x="4" y="20">nd_experimentprop <tspan>[table]</tspan></text><text class="r" x="3" y="47">...</text><text class="r" x="3" y="72">&lt; 2</text></g>
<g id="nd_experiment" transform="translate(482 4372)"><rect class="b" width="165" height="79"/><rect class="h" x="1" y="1" width="163" height="29"/><path class="s" d="M0 30H165M0 54H165M70 54V79M108 54V79"/><text class="n" x="4" y="20">nd_experiment <tspan>[table]</tspan></text><text class="r" x="3" y="47">...</text><text class="r" x="3" y="72">&lt; 2</text><text class="r e" x="161" y="72">10 &gt;</text></g>
<g id="cvterm_relationship" transform="translate(464 4479)"><rect class="b" width="200" height="79"/><rect class="h" x="1" y="1" width="198" height="29"/><path class="s" d="M0 30H200M0 54H200M97 54V79M148 54V79"/><text class="n" x="4" y="20">cvterm_relationship <tspan>[table]</tspan></text><text class="r" x="3" y="47">...</text><text class="r" x="3" y="72">&lt; 3</text></g>
<g id="quantificationprop" transform="translate(469 4586)"><rect class="b" width="189" height="79"/><rect class="h" x="1" y="1" width="187" height="29"/><path class="s" d="M0 30H189M0 54H189M92 54V79M140 54V79"/><text class="n" x="4" y="20">quantificationprop <tspan>[table]</tspan></text><text class="r" x="3" y="47">...</text><text class="r" x="3" y="72">&lt; 2</text></g>
<g id="featuremapprop" transform="translate(809 4747)"><rect class="b" width="172" height="79"/><rect class="h" x="1" y="1" width="170" height="29"/><path class="s" d="M0 30H172M0 54H172M83 54V79M127 54V79"/><text class="n" x="4" y="20">featuremapprop <tspan>[table]</tspan></text><text class="r" x="3" y="47">...</text><text class="r" x="3" y="72">&lt; 2</text></g>
<g id="featuremap" transform="translate(495 4766)"><rect class="b" width="139" height="79"/><rect class="h" x="1" y="1" width="137" height="29"/><path class="s" d="M0 30H139M0 54H139M62 54V79M95 54V79"/><text class="n" x="4" y="20">featuremap <tspan>[table]</tspan></text><text class="r" x="3" y="47">...</text><text class="r" x="3" y="72">&lt; 1</text><text class="r e" x="135" y="72">8 &gt;</text></g>
<g id="nd_experiment_stockprop" transform="translate(1451 4784)"><rect class="b" width="243" height="79"/><rect class="h" x="1" y="1" width="241" height="29"/><path class="s" d="M0 30H243M0 54H243M120 54V79M181 54V79"/><text class="n" x="4" y="20">nd_experiment_stockprop <tspan>[table]</tspan></text><text class="r" x="3" y="47">...</text><text class="r" x="3" y="72">&lt; 2</text></g>
<g id="studyprop_feature" transform="translate(1148 4808)"><rect class="b" width="188" height="79"/><rect class="h" x="1" y="1" width="186" height="29"/><path class="s" d="M0 30H188M0 54H188M92 54V79M140 54V79"/><text class="n" x="4" y="20">studyprop_feature <tspan>[table]</tspan></text><text class="r" x="3" y="47">...</text><text class="r" x="3" y="72">&lt; 3</text></g>
<g id="cvtermprop" transform="translate(493 4910)"><rect class="b" width="141" height="79"/><rect class="h" x="1" y="1" width="139" height="29"/><path class="s" d="M0 30H141M0 54H141M68 54V79M104 54V79"/><text class="n" x="4" y="20">cvtermprop <tspan>[table]</tspan></text><text class="r" x="3" y="47">...</text><text class="r" x="3" y="72">&lt; 2</text></g>
<g id="nd_experiment_stock" transform="translate(1137 4915)"><rect class="b" width="211" height="79"/><rect class="h" x="1" y="1" width="209" height="29"/><path class="s" d="M0 30H211M0 54H211M97 54V79M149 54V79"/><text class="n" x="4" y="20">nd_experiment_stock <tspan>[table]</tspan></text><text class="r" x="3" y="47">...</text><text class="r" x="3" y="72">&lt; 3</text><text class="r e" x="207" y="72">2 &gt;</text></g>
<g id="cell_line_dbxref" transform="translate(1158 5022)"><rect class="b" width="169" height="79"/><rect class="h" x="1" y="1" width="167" height="29"/><path class="s" d="M0 30H169M0 54H169M82 54V79M126 54V79"/><text class="n" x="4" y="20">cell_line_dbxref <tspan>[table]</tspan></text><text class="r" x="3" y="47">...</text><text class="r" x="3" y="72">&lt; 2</text></g>
<g id="protocol" transform="translate(835 5039)"><rect class="b" width="119" height="79"/><rect class="h" x="1" y="1" width="117" height="29"/><path class="s" d="M0 30H119M0 54H119M52 54V79M79 54V79"/><text class="n" x="4" y="20">protocol <tspan>[table]</tspan></text><text class="r" x="3" y="47">...</text><text class="r" x="3" y="72">&lt; 3</text><text class="r e" x="115" y="72">6 &gt;</text></g>
<g id="feature_pubprop" transform="translate(476 5053)"><rect class="b" width="177" height="79"/><rect class="h" x="1" y="1" width="175" height="29"/><path class="s" d="M0 30H177M0 54H177M87 54V79M133 54V79"/><text class="n" x="4" y="20">feature_pubprop <tspan>[table]</tspan></text><text class="r" x="3" y="47">...</text><text class="r" x="3" y="72">&lt; 2</text></g>
<g id="stock_featuremap" transform="translate(1151 5128)"><rect class="b" width="185" height="79"/><rect class="h" x="1" y="1" width="183" height="29"/><path class="s" d="M0 30H185M0 54H185M90 54V79M137 54V79"/><text class="n" x="4" y="20">stock_featuremap <tspan>[table]</tspan></text><text class="r" x="3" y="47">...</text><text class="r" x="3" y="72">&lt; 3</text></g>
<g id="studyprop" transform="translate(829 5182)"><rect class="b" width="131" height="79"/><rect class="h" x="1" y="1" width="129" height="29"/><path class="s" d="M0 30H131M0 54H131M58 54V79M91 54V79"/><text class="n" x="4" y="20">studyprop <tspan>[table]</tspan></text><text class="r" x="3" y="47">...</text><text class="r" x="3" y="72">&lt; 2</text><text class="r e" x="127" y="72">1 &gt;</text></g>
<g id="stock_dbxrefprop" transform="translate(472 5198)"><rect class="b" width="185" height="79"/><rect class="h" x="1" y="1" width="183" height="29"/><path class="s" d="M0 30H185M0 54H185M91 54V79M137 54V79"/><text class="n" x="4" y="20">stock_dbxrefprop <tspan>[table]</tspan></text><text class="r" x="3" y="47">...</text><text class="r" x="3" y="72">&lt; 2</text></g>
<g id="stockprop" transform="translate(1178 5243)"><rect class="b" width="130" height="79"/><rect class="h" x="1" y="1" width="128" height="29"/><path class="s" d="M0 30H130M0 54H130M57 54V79M90 54V79"/><text class="n" x="4" y="20">stockprop <tspan>[table]</tspan></text><text class="r" x="3" y="47">...</text><text class="r" x="3" y="72">&lt; 2</text><text class="r e" x="126" y="72">1 &gt;</text></g>
<g id="stock" transform="translate(845 5327)"><rect class="b" width="99" height="79"/><rect class="h" x="1" y="1" width="97" height="29"/><path class="s" d="M0 30H99M0 54H99M38 54V79M58 54V79"/><text class="n" x="4" y="20">stock <tspan>[table]</tspan></text><text class="r" x="3" y="47">...</text><text class="r" x="3" y="72">&lt; 3</text><text class="r e" x="95" y="72">13 &gt;</text></g>
<g id="cvtermsynonym" transform="translate(478 5341)"><rect class="b" width="172" height="79"/><rect class="h" x="1" y="1" width="170" height="29"/><path class="s" d="M0 30H172M0 54H172M84 54V79M127 54V79"/><text class="n" x="4" y="20">cvtermsynonym <tspan>[table]</tspan></text><text class="r" x="3" y="47">...</text><text class="r" x="3" y="72">&lt; 2</text></g>
<g id="stock_relationship" transform="translate(1148 5349)"><rect class="b" width="188" height="79"/><rect class="h" x="1" y="1" width="186" height="29"/><path class="s" d="M0 30H188M0 54H188M87 54V79M131 54V79"/><text class="n" x="4" y="20">stock_relationship <tspan>[table]</tspan></text><text class="r" x="3" y="47">...</text><text class="r" x="3" y="72">&lt; 3</text><text class="r e" x="184" y="72">2 &gt;</text></g>
<g id="organism_relationship" transform="translate(787 5433)"><rect class="b" width="216" height="79"/><rect class="h" x="1" y="1" width="214" height="29"/><path class="s" d="M0 30H216M0 54H216M106 54V79M161 54V79"/><text class="n" x="4" y="20">organism_relationship <tspan>[table]</tspan></text><text class="r" x="3" y="47">...</text><text class="r" x="3" y="72">&lt; 3</text></g>
<g id="stock_cvterm" transform="translate(1167 5456)"><rect class="b" width="153" height="79"/><rect class="h" x="1" y="1" width="151" height="29"/><path class="s" d="M0 30H153M0 54H153M68 54V79M103 54V79"/><text class="n" x="4" y="20">stock_cvterm <tspan>[table]</tspan></text><text class="r" x="3" y="47">...</text><text class="r" x="3" y="72">&lt; 3</text><text class="r e" x="149" y="72">1 &gt;</text></g>
<g id="stock_cvtermprop" transform="translate(1479 5491)"><rect class="b" width="187" height="79"/><rect class="h" x="1" y="1" width="185" height="29"/><path class="s" d="M0 30H187M0 54H187M92 54V79M141 54V79"/><text class="n" x="4" y="20">stock_cvtermprop <tspan>[table]</tspan></text><text class="r" x="3" y="47">...</text><text class="r" x="3" y="72">&lt; 2</text></g>
<g id="organismprop" transform="translate(815 5540)"><rect class="b" width="159" height="79"/><rect class="h" x="1" y="1" width="157" height="29"/><path class="s" d="M0 30H159M0 54H159M72 54V79M110 54V79"/><text class="n" x="4" y="20">organismprop <tspan>[table]</tspan></text><text class="r" x="3" y="47">...</text><text class="r" x="3" y="72">&lt; 2</text><text class="r e" x="155" y="72">1 &gt;</text></g>
<g id="cell_line_feature" transform="translate(1156 5600)"><rect class="b" width="175" height="79"/><rect class="h" x="1" y="1" width="173" height="29"/><path class="s" d="M0 30H175M0 54H175M86 54V79M130 54V79"/><text class="n" x="4" y="20">cell_line_feature <tspan>[table]</tspan></text><text class="r" x="3" y="47">...</text><text class="r" x="3" y="72">&lt; 3</text></g>
<g id="organism" transform="translate(502 5666)"><rect class="b" width="126" height="79"/><rect class="h" x="1" y="1" width="124" height="29"/><path class="s" d="M0 30H126M0 54H126M50 54V79M79 54V79"/><text class="n" x="4" y="20">organism <tspan>[table]</tspan></text><text class="r" x="3" y="47">...</text><text class="r" x="3" y="72">&lt; 1</text><text class="r e" x="122" y="72">14 &gt;</text></g>
<g id="cell_line_relationship" transform="translate(1139 5707)"><rect class="b" width="209" height="79"/><rect class="h" x="1" y="1" width="207" height="29"/><path class="s" d="M0 30H209M0 54H209M103 54V79M157 54V79"/><text class="n" x="4" y="20">cell_line_relationship <tspan>[table]</tspan></text><text class="r" x="3" y="47">...</text><text class="r" x="3" y="72">&lt; 3</text></g>
<g id="featureposprop" transform="translate(481 5772)"><rect class="b" width="168" height="79"/><rect class="h" x="1" y="1" width="166" height="29"/><path class="s" d="M0 30H168M0 54H168M82 54V79M124 54V79"/><text class="n" x="4" y="20">featureposprop <tspan>[table]</tspan></text><text class="r" x="3" y="47">...</text><text class="r" x="3" y="72">&lt; 2</text></g>
<g id="cell_line_pub" transform="translate(1168 6048)"><rect class="b" width="152" height="79"/><rect class="h" x="1" y="1" width="150" height="29"/><path class="s" d="M0 30H152M0 54H152M73 54V79M112 54V79"/><text class="n" x="4" y="20">cell_line_pub <tspan>[table]</tspan></text><text class="r" x="3" y="47">...</text><text class="r" x="3" y="72">&lt; 2</text></g>
<g id="synonym" transform="translate(833 6132)"><rect class="b" width="124" height="79"/><rect class="h" x="1" y="1" width="122" height="29"/><path class="s" d="M0 30H124M0 54H124M54 54V79M87 54V79"/><text class="n" x="4" y="20">synonym <tspan>[table]</tspan></text><text class="r" x="3" y="47">...</text><text class="r" x="3" y="72">&lt; 1</text><text class="r e" x="120" y="72">3 &gt;</text></g>
<g id="cell_line_synonym" transform="translate(1148 6154)"><rect class="b" width="188" height="79"/><rect class="h" x="1" y="1" width="186" height="29"/><path class="s" d="M0 30H188M0 54H188M92 54V79M140 54V79"/><text class="n" x="4" y="20">cell_line_synonym <tspan>[table]</tspan></text><text class="r" x="3" y="47">...</text><text class="r" x="3" y="72">&lt; 3</text></g>
<g id="pub" transform="translate(520 6236)"><rect class="b" width="87" height="79"/><rect class="h" x="1" y="1" width="85" height="29"/><path class="s" d="M0 30H87M0 54H87M32 54V79M51 54V79"/><text class="n" x="4" y="20">pub <tspan>[table]</tspan></text><text class="r" x="3" y="47">...</text><text class="r" x="3" y="72">&lt; 1</text><text class="r e" x="83" y="72">47 &gt;</text></g>
<g id="cell_line_library" transform="translate(1158 6261)"><rect class="b" width="169" height="79"/><rect class="h" x="1" y="1" width="167" height="29"/><path class="s" d="M0 30H169M0 54H169M82 54V79M126 54V79"/><text class="n" x="4" y="20">cell_line_library <tspan>[table]</tspan></text><text class="r" x="3" y="47">...</text><text class="r" x="3" y="72">&lt; 3</text></g>
<g id="studydesignprop" transform="translate(476 6383)"><rect class="b" width="178" height="79"/><rect class="h" x="1" y="1" width="176" height="29"/><path class="s" d="M0 30H178M0 54H178M87 54V79M133 54V79"/><text class="n" x="4" y="20">studydesignprop <tspan>[table]</tspan></text><text class="r" x="3" y="47">...</text><text class="r" x="3" y="72">&lt; 2</text></g>
<g id="library" transform="translate(843 6384)"><rect class="b" width="103" height="79"/><rect class="h" x="1" y="1" width="101" height="29"/><path class="s" d="M0 30H103M0 54H103M40 54V79M62 54V79"/><text class="n" x="4" y="20">library <tspan>[table]</tspan></text><text class="r" x="3" y="47">...</text><text class="r" x="3" y="72">&lt; 2</text><text class="r e" x="99" y="72">12 &gt;</text></g>
<g id="libraryprop" transform="translate(1174 6405)"><rect class="b" width="137" height="79"/><rect class="h" x="1" y="1" width="135" height="29"/><path class="s" d="M0 30H137M0 54H137M60 54V79M94 54V79"/><text class="n" x="4" y="20">libraryprop <tspan>[table]</tspan></text><text class="r" x="3" y="47">...</text><text class="r" x="3" y="72">&lt; 2</text><text class="r e" x="133" y="72">1 &gt;</text></g>
<g id="library_relationship" transform="translate(1144 6512)"><rect class="b" width="197" height="79"/><rect class="h" x="1" y="1" width="195" height="29"/><path class="s" d="M0 30H197M0 54H197M91 54V79M138 54V79"/><text class="n" x="4" y="20">library_relationship <tspan>[table]</tspan></text><text class="r" x="3" y="47">...</text><text class="r" x="3" y="72">&lt; 3</text><text class="r e" x="193" y="72">1 &gt;</text></g>
<g id="stock_relationship_cvterm" transform="translate(1450 6580)"><rect class="b" width="244" height="79"/><rect class="h" x="1" y="1" width="242" height="29"/><path class="s" d="M0 30H244M0 54H244M119 54V79M182 54V79"/><text class="n" x="4" y="20">stock_relationship_cvterm <tspan>[table]</tspan></text><text class="r" x="3" y="47">...</text><text class="r" x="3" y="72">&lt; 3</text></g>
<g id="organism_cvterm" transform="translate(805 6600)"><rect class="b" width="181" height="79"/><rect class="h" x="1" y="1" width="179" height="29"/><path class="s" d="M0 30H181M0 54H181M82 54V79M126 54V79"/><text class="n" x="4" y="20">organism_cvterm <tspan>[table]</tspan></text><text class="r" x="3" y="47">...</text><text class="r" x="3" y="72">&lt; 3</text><text class="r e" x="177" y="72">1 &gt;</text></g>
<g id="protocolparam" transform="translate(1162 6668)"><rect class="b" width="163" height="79"/><rect class="h" x="1" y="1" width="161" height="29"/><path class="s" d="M0 30H163M0 54H163M79 54V79M121 54V79"/><text class="n" x="4" y="20">protocolparam <tspan>[table]</tspan></text><text class="r" x="3" y="47">...</text><text class="r" x="3" y="72">&lt; 3</text></g>
<g id="pub_relationship" transform="translate(805 6707)"><rect class="b" width="178" height="79"/><rect class="h" x="1" y="1" width="176" height="29"/><path class="s" d="M0 30H178M0 54H178M87 54V79M133 54V79"/><text class="n" x="4" y="20">pub_relationship <tspan>[table]</tspan></text><text class="r" x="3" y="47">...</text><text class="r" x="3" y="72">&lt; 3</text></g>
<g id="library_cvterm" transform="translate(1163 6775)"><rect class="b" width="161" height="79"/><rect class="h" x="1" y="1" width="159" height="29"/><path class="s" d="M0 30H161M0 54H161M78 54V79M120 54V79"/><text class="n" x="4" y="20">library_cvterm <tspan>[table]</tspan></text><text class="r" x="3" y="47">...</text><text class="r" x="3" y="72">&lt; 3</text></g>
<g id="phenotype_comparison_cvterm" transform="translate(755 6813)"><rect class="b" width="280" height="79"/><rect class="h" x="1" y="1" width="278" height="29"/><path class="s" d="M0 30H280M0 54H280M138 54V79M209 54V79"/><text class="n" x="4" y="20">phenotype_comparison_cvterm <tspan>[table]</tspan></text><text class="r" x="3" y="47">...</text><text class="r" x="3" y="72">&lt; 3</text></g>
<g id="cell_line_cvterm" transform="translate(1156 6907)"><rect class="b" width="173" height="79"/><rect class="h" x="1" y="1" width="171" height="29"/><path class="s" d="M0 30H173M0 54H173M79 54V79M121 54V79"/><text class="n" x="4" y="20">cell_line_cvterm <tspan>[table]</tspan></text><text class="r" x="3" y="47">...</text><text class="r" x="3" y="72">&lt; 3</text><text class="r e" x="169" y="72">1 &gt;</text></g>
<g id="pubprop" transform="translate(835 6920)"><rect class="b" width="120" height="79"/><rect class="h" x="1" y="1" width="118" height="29"/><path class="s" d="M0 30H120M0 54H120M58 54V79M89 54V79"/><text class="n" x="4" y="20">pubprop <tspan>[table]</tspan></text><text class="r" x="3" y="47">...</text><text class="r" x="3" y="72">&lt; 2</text></g>
<g id="organism_cvtermprop" transform="translate(1135 7063)"><rect class="b" width="215" height="79"/><rect class="h" x="1" y="1" width="213" height="29"/><path class="s" d="M0 30H215M0 54H215M105 54V79M161 54V79"/><text class="n" x="4" y="20">organism_cvtermprop <tspan>[table]</tspan></text><text class="r" x="3" y="47">...</text><text class="r" x="3" y="72">&lt; 2</text></g>
<g id="cell_line_cvtermprop" transform="translate(1470 7171)"><rect class="b" width="205" height="79"/><rect class="h" x="1" y="1" width="203" height="29"/><path class="s" d="M0 30H205M0 54H205M101 54V79M152 54V79"/><text class="n" x="4" y="20">cell_line_cvtermprop <tspan>[table]</tspan></text><text class="r" x="3" y="47">...</text><text class="r" x="3" y="72">&lt; 2</text></g>
<g id="studyfactor" transform="translate(493 7224)"><rect class="b" width="141" height="79"/><rect class="h" x="1" y="1" width="139" height="29"/><path class="s" d="M0 30H141M0 54H141M64 54V79M98 54V79"/><text class="n" x="4" y="20">studyfactor <tspan>[table]</tspan></text><text class="r" x="3" y="47">...</text><text class="r" x="3" y="72">&lt; 2</text><text class="r e" x="137" y="72">1 &gt;</text></g>
<g id="library_expressionprop" transform="translate(452 7331)"><rect class="b" width="224" height="79"/><rect class="h" x="1" y="1" width="222" height="29"/><path class="s" d="M0 30H224M0 54H224M110 54V79M167 54V79"/><text class="n" x="4" y="20">library_expressionprop <tspan>[table]</tspan></text><text class="r" x="3" y="47">...</text><text class="r" x="3" y="72">&lt; 2</text></g>
<g id="acquisitionprop" transform="translate(480 7511)"><rect class="b" width="169" height="79"/><rect class="h" x="1" y="1" width="167" height="29"/><path class="s" d="M0 30H169M0 54H169M82 54V79M125 54V79"/><text class="n" x="4" y="20">acquisitionprop <tspan>[table]</tspan></text><text class="r" x="3" y="47">...</text><text class="r" x="3" y="72">&lt; 2</text></g>
<g id="analysis_cvterm" transform="translate(478 7617)"><rect class="b" width="172" height="79"/><rect class="h" x="1" y="1" width="170" height="29"/><path class="s" d="M0 30H172M0 54H172M84 54V79M127 54V79"/><text class="n" x="4" y="20">analysis_cvterm <tspan>[table]</tspan></text><text class="r" x="3" y="47">...</text><text class="r" x="3" y="72">&lt; 2</text></g>
<g id="cv" transform="translate(30 7724)"><rect class="b" width="78" height="79"/><rect class="h" x="1" y="1" width="76" height="29"/><path class="s" d="M0 30H78M0 54H78M26 54V79M45 54V79"/><text class="n" x="4" y="20">cv <tspan>[table]</tspan></text><text class="r" x="3" y="47">...</text><text class="r e" x="74" y="72">3 &gt;</text></g>
<g id="cvtermpath" transform="translate(495 7724)"><rect class="b" width="139" height="79"/><rect class="h" x="1" y="1" width="137" height="29"/><path class="s" d="M0 30H139M0 54H139M67 54V79M103 54V79"/><text class="n" x="4" y="20">cvtermpath <tspan>[table]</tspan></text><text class="r" x="3" y="47">...</text><text class="r" x="3" y="72">&lt; 4</text></g>
<g id="cvprop" transform="translate(510 7831)"><rect class="b" width="107" height="79"/><rect class="h" x="1" y="1" width="105" height="29"/><path class="s" d="M0 30H107M0 54H107M51 54V79M80 54V79"/><text class="n" x="4" y="20">cvprop <tspan>[table]</tspan></text><text class="r" x="3" y="47">...</text><text class="r" x="3" y="72">&lt; 2</text></g>
<g id="cvterm" transform="translate(190 3953)"><rect class="b" width="185" height="226"/><rect class="h" x="1" y="1" width="183" height="31"/><path class="s" d="M0 32H185M0 60H185M0 89H185M0 119H185M0 148H185M0 178H185M0 202H185M74 202V226M115 202V226"/><text class="n" x="4" y="21">cvterm</text><text class="t" x="181" y="21">[table]</text><g class="ky" transform="translate(12 38)"><circle r="2.6"/><rect x="-1" y="1" width="2" height="12"/></g><g class="kg" transform="translate(12 66)"><circle r="2.6"/><rect x="-1" y="1" width="2" height="12"/></g><g class="kg" transform="translate(12 125)"><circle r="2.6"/><rect x="-1" y="1" width="2" height="12"/></g><text class="r" x="26" y="51">cvterm_id</text><text class="r" x="26" y="79">cv_id</text><text class="r" x="26" y="109">name</text><text class="r" x="26" y="138">dbxref_id</text><text class="r" x="26" y="168">is_obsolete</text><text class="r" x="4" y="195">...</text><text class="r" x="3" y="219">&lt; 2</text><text class="r e" x="181" y="219">122 &gt;</text></g>
<g id="cell_line" transform="translate(811 5864)"><rect class="b" width="168" height="167"/><rect class="h" x="1" y="1" width="166" height="30"/><path class="s" d="M0 31H168M0 60H168M0 90H168M0 119H168M0 142H168M76 142V167M116 142V167"/><text class="n" x="4" y="20">cell_line</text><text class="t" x="164" y="20">[table]</text><g class="ky" transform="translate(13 37)"><circle r="2.6"/><rect x="-1" y="1" width="2" height="12"/></g><g class="kg" transform="translate(13 96)"><circle r="2.6"/><rect x="-1" y="1" width="2" height="12"/></g><text class="r" x="27" y="50">cell_line_id</text><text class="r" x="27" y="80">uniquename</text><text class="r" x="27" y="109">organism_id</text><text class="r" x="3" y="135">...</text><text class="r" x="3" y="160">&lt; 1</text><text class="r e" x="164" y="160">9 &gt;</text></g>
<g id="cell_lineprop" transform="translate(1103 5813)"><rect class="b" width="280" height="206" style="stroke-width:3"/><rect class="h" x="1.5" y="1.5" width="277" height="31.5"/><path class="s" d="M0 33H280M0 64H280M0 93H280M0 123H280M0 152H280M0 181H280"/><path class="d" d="M159 33V181M86 181V206M159 181V206"/><g class="ky" transform="translate(12 40)"><circle r="2.6"/><rect x="-1" y="1" width="2" height="12"/></g><g class="kg" transform="translate(12 70)"><circle r="2.6"/><rect x="-1" y="1" width="2" height="12"/></g><g class="kg" transform="translate(12 100)"><circle r="2.6"/><rect x="-1" y="1" width="2" height="12"/></g><text class="n" x="5" y="22">cell_lineprop</text><text class="t" x="276" y="22">[table]</text><text class="r" x="24" y="53">cell_lineprop_id</text><text class="r" x="163" y="53">bigserial[19]</text><text class="r" x="24" y="83">cell_line_id</text><text class="r" x="163" y="83">int8[19]</text><text class="r" x="24" y="113">type_id</text><text class="r" x="163" y="113">int8[19]</text><text class="r" x="24" y="142">value</text><text class="r" x="163" y="142">text[2147483647]</text><text class="r" x="24" y="171">rank</text><text class="r" x="163" y="171">int4[10]</text><text class="r" x="3" y="198">&lt; 2</text><text class="r e" x="276" y="198">1 &gt;</text></g>
<g id="cell_lineprop_pub" transform="translate(1474 6028)"><rect class="b" width="196" height="143"/><rect class="h" x="1" y="1" width="194" height="30"/><path class="s" d="M0 31H196M0 60H196M0 90H196M0 119H196M95 119V143M147 119V143"/><g class="ky" transform="translate(12 37)"><circle r="2.6"/><rect x="-1" y="1" width="2" height="12"/></g><g class="kg" transform="translate(12 66)"><circle r="2.6"/><rect x="-1" y="1" width="2" height="12"/></g><g class="kg" transform="translate(12 96)"><circle r="2.6"/><rect x="-1" y="1" width="2" height="12"/></g><text class="n" x="4" y="20">cell_lineprop_pub</text><text class="t" x="192" y="20">[table]</text><text class="r" x="26" y="50">cell_lineprop_pub_id</text><text class="r" x="26" y="80">cell_lineprop_id</text><text class="r" x="26" y="109">pub_id</text><text class="r" x="3" y="136">&lt; 2</text></g>
<text class="r" x="15" y="7948">Generated by SchemaSpy</text>
</svg>
